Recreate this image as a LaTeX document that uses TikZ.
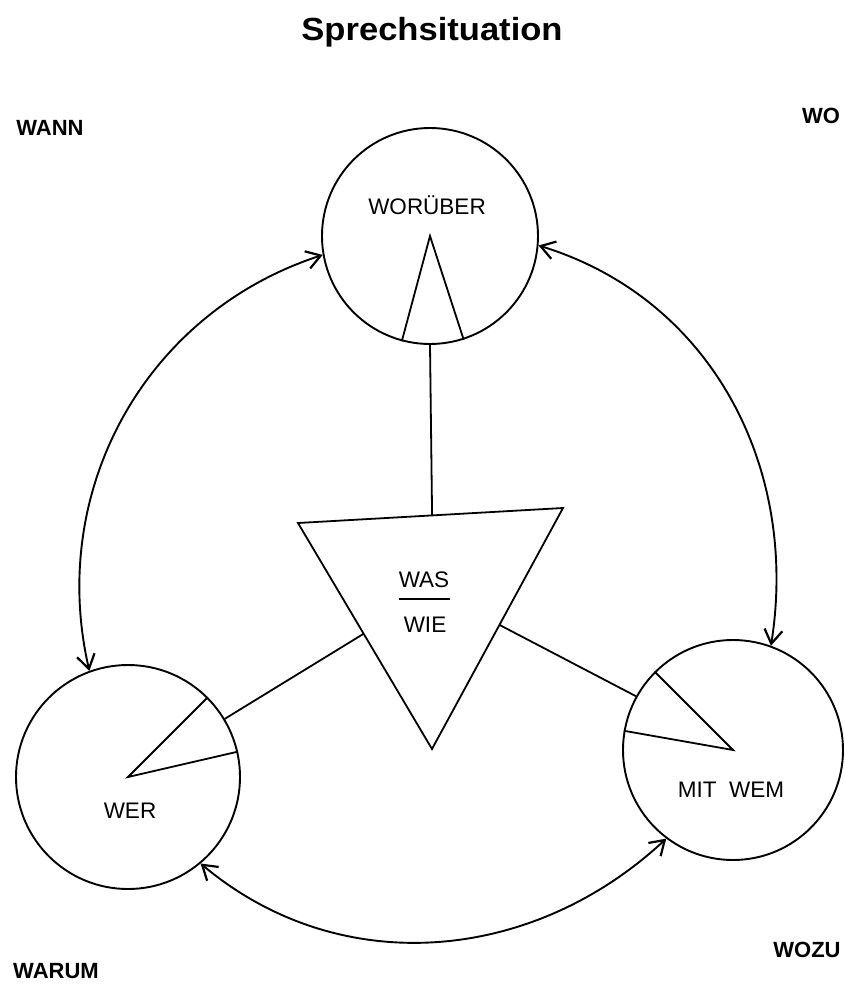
\documentclass[tikz,border=0pt]{standalone}
\usepackage{fontspec}
\setmainfont{Liberation Sans}
\usetikzlibrary{arrows.meta,calc}
\begin{document}
\begin{tikzpicture}[x=1pt,y=1pt,
  ring/.style={circle,draw,line width=1.9pt,inner sep=0pt},
  lbl/.style={anchor=base,inner sep=0pt,font=\fontsize{22.5}{27}\selectfont},
  corner/.style={anchor=base,inner sep=0pt,font=\bfseries\fontsize{22}{26}\selectfont},
  ln/.style={line width=1.8pt,line join=miter},
  arr/.style={line width=1.9pt,
    {Straight Barb[length=14pt,width=18pt,line width=2.2pt]}-{Straight Barb[length=14pt,width=18pt,line width=2.2pt]}}
]
\useasboundingbox (0,0) rectangle (844,-985);

% title and corner labels
\node[anchor=base,inner sep=0pt,font=\bfseries\fontsize{32}{38}\selectfont,xscale=1.08] (title) at (432,-40) {Sprechsituation};
\node[corner] (wann) at (50,-135) {WANN};
\node[corner] (wo) at (821,-123) {WO};
\node[corner] (warum) at (56,-978) {WARUM};
\node[corner] (wozu) at (807,-957) {WOZU};

% circles
\node[ring,minimum size=216pt] (worueber) at (430,-236) {};
\node[ring,minimum size=224pt] (wer) at (128,-777) {};
\node[ring,minimum size=220pt] (mitwem) at (733,-750) {};

\node[lbl] (tworueber) at (427,-214) {WORÜBER};
\node[lbl] (twer) at (130,-818) {WER};
\node[lbl] (tmitwem) at (731,-797) {MIT\ \ WEM};

% central triangle
\coordinate (tA) at (298,-523);
\coordinate (tB) at (563,-508);
\coordinate (tC) at (432,-749);
\draw[ln] (tA) -- (tB) -- (tC) -- cycle;
\node[lbl] (twas) at (424,-587) {WAS};
\node[lbl] (twie) at (425,-632) {WIE};
\coordinate (fracL) at (399,-599);
\coordinate (fracR) at (450,-599);
\draw[line width=1.6pt] (fracL) -- (fracR);

% connecting lines
\draw[ln] (worueber.south) -- ($(tA)!0.506!(tB)$);
\draw[ln] ($(tA)!0.49!(tC)$) -- (wer.31);
\draw[ln] ($(tB)!0.485!(tC)$) -- (mitwem.151);

% wedges
\draw[ln] (worueber.255) -- (worueber.center) -- (worueber.288);
\draw[ln] (wer.45) -- (wer.center) -- (wer.13);
\draw[ln] (mitwem.135) -- (mitwem.center) -- (mitwem.170);

% arcs
\draw[arr] (worueber.190) to[out=198,in=103] (wer.110);
\draw[arr] (worueber.-5) to[out=-17,in=81] (mitwem.70);
\draw[arr] (wer.-50) to[out=-40,in=223] (mitwem.233);
\end{tikzpicture}
\end{document}
